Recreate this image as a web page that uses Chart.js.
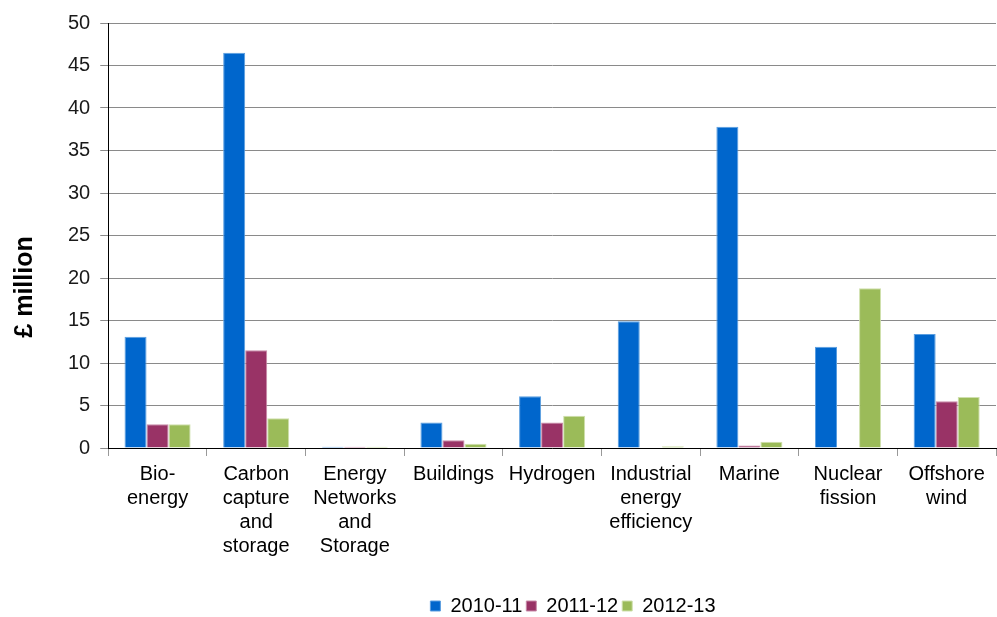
<!DOCTYPE html>
<html>
<head>
<meta charset="utf-8">
<script src="https://cdn.jsdelivr.net/npm/chart.js@4/dist/chart.umd.min.js"></script>
<style>
  html, body { margin: 0; padding: 0; background: #fff; }
  #wrap { width: 997px; height: 617px; }
</style>
</head>
<body>
<div id="wrap"><canvas id="fundChart"></canvas></div>
<script>
// categories (multi-line labels as in the original)
const categories = [
    ["Bio-", "energy"],
    ["Carbon", "capture", "and", "storage"],
    ["Energy", "Networks", "and", "Storage"],
    "Buildings",
    "Hydrogen",
    ["Industrial", "energy", "efficiency"],
    "Marine",
    ["Nuclear", "fission"],
    ["Offshore", "wind"]
];
const seriesNames = ["2010-11", "2011-12", "2012-13"];

// £ million per year
const spend2010 = [13.1, 46.5, 0.15, 3.0, 6.1, 14.9, 37.8, 11.9, 13.4];
const spend2011 = [2.8, 11.5, 0.15, 0.9, 3.0, 0, 0.3, 0, 5.5];
const spend2012 = [2.8, 3.5, 0.15, 0.5, 3.8, 0.2, 0.75, 18.8, 6.0];

const yTicks = [0, 5, 10, 15, 20, 25, 30, 35, 40, 45, 50];
const yTitle = "£ million";

const FONT = "'Liberation Sans', Arial, sans-serif";

// y axis title sits lower than the chart area middle, so draw it by hand
const yTitlePlugin = {
    id: "yTitle",
    afterDraw(chart) {
        const ctx = chart.ctx;
        ctx.save();
        ctx.translate(25, 287);
        ctx.rotate(-Math.PI / 2);
        ctx.font = "bold 25px " + FONT;
        ctx.fillStyle = "#000";
        ctx.textAlign = "center";
        ctx.textBaseline = "middle";
        ctx.fillText(yTitle, 0, 0);
        ctx.restore();
    }
};

// legend is centred under the plot, a bit right of the canvas centre
const legendShift = {
    id: "legendShift",
    afterLayout(chart) {
        chart.legend.left += 46;
        chart.legend.right += 46;
        chart.legend.top += 9;
        chart.legend.bottom += 9;
    }
};

var fundChart = new Chart(document.getElementById("fundChart"), {
    type: "bar",
    data: {
        labels: categories,
        datasets: [
            {
                label: seriesNames[0],
                data: spend2010,
                backgroundColor: "#0066CC",
                borderColor: "#5a9ee0",
                borderWidth: 1
            },
            {
                label: seriesNames[1],
                data: spend2011,
                backgroundColor: "#993366",
                borderColor: "#c98aa8",
                borderWidth: 1
            },
            {
                label: seriesNames[2],
                data: spend2012,
                backgroundColor: "#9BBB59",
                borderColor: "#cfe0ad",
                borderWidth: 1
            }
        ]
    },
    options: {
        responsive: true,
        maintainAspectRatio: false,
        animation: false,
        categoryPercentage: 0.67,
        barPercentage: 1,
        layout: {
            padding: { top: 23, left: 58, right: 1, bottom: 0 }
        },
        plugins: {
            legend: {
                position: "bottom",
                labels: {
                    boxWidth: 10,
                    boxHeight: 10,
                    padding: 4,
                    color: "#000",
                    font: { family: FONT, size: 20 }
                }
            },
            tooltip: { enabled: false }
        },
        scales: {
            x: {
                grid: {
                    drawOnChartArea: false,
                    drawTicks: true,
                    tickLength: 8,
                    tickColor: "#999"
                },
                border: { color: "#000", width: 1 },
                ticks: {
                    maxRotation: 0,
                    autoSkip: false,
                    padding: 6,
                    color: "#000",
                    font: { family: FONT, size: 20, lineHeight: 1.2 }
                },
                afterFit(scale) {
                    scale.height += 19;
                }
            },
            y: {
                min: 0,
                max: 50,
                afterBuildTicks(scale) {
                    scale.ticks = yTicks.map(v => ({ value: v }));
                },
                grid: {
                    color: "#8a8a8a",
                    tickLength: 8,
                    tickColor: "#8a8a8a"
                },
                border: { color: "#000", width: 1 },
                ticks: {
                    padding: 10,
                    color: "#1a1a1a",
                    font: { family: FONT, size: 20 }
                }
            }
        }
    },
    plugins: [yTitlePlugin, legendShift]
});
</script>
</body>
</html>
